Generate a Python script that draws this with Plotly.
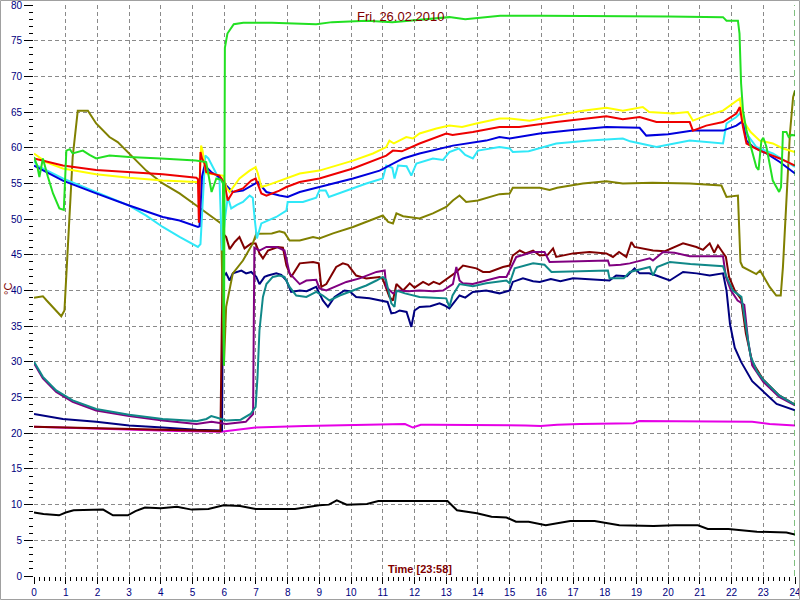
import plotly.graph_objects as go

# ---------------- data (hours, °C) ----------------
black_t = [0, 0.3, 0.79, 1.0, 1.25, 1.7, 2.18, 2.49, 2.96, 3.2, 3.5, 4.0, 4.51, 4.97, 5.5, 5.98, 6.5, 6.99, 8.23, 9.0, 9.3, 9.55, 9.86, 10.5, 10.86, 11.95, 13.04, 13.34, 13.97, 14.43, 14.9, 15.2, 15.6, 16.14, 16.91, 17.68, 18.46, 19.54, 20.2, 20.94, 21.25, 21.9, 22.8, 23.73, 24.0]
black_v = [8.9, 8.7, 8.5, 8.9, 9.2, 9.2, 9.3, 8.5, 8.5, 9.1, 9.6, 9.5, 9.7, 9.3, 9.4, 9.9, 9.8, 9.4, 9.4, 9.9, 10.0, 10.6, 10.0, 10.1, 10.5, 10.5, 10.5, 9.2, 8.8, 8.3, 8.2, 7.6, 7.6, 7.1, 7.7, 7.7, 7.1, 7.0, 7.1, 7.1, 6.6, 6.6, 6.2, 6.1, 5.8]

magenta_t = [0, 1.41, 2.96, 4.51, 5.9, 6.37, 6.99, 8.54, 10.71, 11.4, 11.7, 11.95, 12.2, 12.57, 14.43, 15.5, 15.98, 16.5, 17.22, 18.5, 18.9, 19.08, 20.78, 21.1, 22.65, 23.2, 24.0]
magenta_v = [20.9, 20.7, 20.5, 20.3, 20.2, 20.5, 20.8, 21.0, 21.2, 21.2, 21.3, 20.8, 21.2, 21.2, 21.2, 21.1, 21.0, 21.2, 21.3, 21.3, 21.4, 21.7, 21.7, 21.6, 21.6, 21.3, 21.1]

navy_t = [0, 0.91, 1.96, 3.0, 4.06, 5.12, 5.9, 5.93, 5.96, 6.06, 6.17, 6.27, 6.54, 6.69, 6.85, 7.01, 7.11, 7.27, 7.38, 7.64, 7.8, 7.96, 8.11, 8.38, 8.6, 8.9, 9.11, 9.27, 9.48, 9.79, 9.95, 10.16, 10.58, 11.0, 11.15, 11.27, 11.4, 11.53, 11.75, 11.9, 12.0, 12.16, 12.5, 12.79, 12.95, 13.1, 13.42, 13.6, 13.84, 14.26, 14.68, 15.0, 15.1, 15.42, 15.74, 15.95, 16.3, 16.6, 17.0, 18.15, 18.36, 18.7, 18.94, 19.1, 19.4, 19.63, 20.05, 20.47, 20.9, 21.31, 21.73, 21.84, 21.95, 22.1, 22.3, 22.65, 23.0, 23.42, 24.0]
navy_v = [22.7, 22.0, 21.6, 21.1, 20.8, 20.5, 20.4, 20.4, 41.9, 42.4, 41.4, 42.4, 42.8, 42.4, 42.6, 41.9, 40.9, 41.9, 42.1, 42.4, 42.2, 41.4, 39.8, 40.0, 39.9, 40.5, 38.6, 37.7, 39.1, 40.0, 39.9, 39.1, 38.9, 38.6, 38.4, 36.8, 36.9, 37.2, 37.0, 34.9, 37.2, 37.7, 37.8, 38.2, 37.9, 37.5, 39.3, 39.0, 39.8, 40.0, 39.6, 40.0, 41.2, 41.7, 41.3, 41.2, 41.6, 41.3, 41.7, 41.4, 42.1, 42.0, 43.1, 42.4, 42.4, 42.1, 41.4, 42.6, 42.4, 42.1, 42.4, 40.0, 35.3, 32.0, 30.0, 27.3, 25.8, 24.1, 23.2]

maroon_t = [0, 3.0, 5.8, 5.88, 5.96, 6.06, 6.17, 6.33, 6.48, 6.64, 6.85, 6.99, 7.11, 7.22, 7.38, 7.69, 7.85, 7.96, 8.11, 8.38, 8.8, 8.98, 9.06, 9.22, 9.53, 9.74, 9.9, 10.16, 10.48, 10.9, 11.0, 11.21, 11.32, 11.43, 11.64, 11.85, 12.0, 12.27, 12.45, 12.6, 12.79, 13.1, 13.32, 13.53, 13.7, 13.95, 14.16, 14.37, 14.79, 15.0, 15.1, 15.32, 15.5, 15.74, 15.95, 16.2, 16.37, 16.47, 17.0, 17.52, 18.05, 18.26, 18.45, 18.68, 18.84, 18.94, 19.52, 19.9, 20.47, 20.89, 21.1, 21.31, 21.45, 21.57, 21.68, 21.82, 21.92, 22.1, 22.3, 22.45, 22.65, 23.0, 23.5, 24.0]
maroon_v = [20.9, 20.6, 20.3, 20.3, 48.0, 47.5, 45.8, 46.8, 47.5, 45.9, 46.6, 46.6, 45.2, 44.5, 45.6, 46.1, 46.0, 43.5, 41.9, 43.8, 44.0, 43.8, 40.5, 40.9, 43.3, 43.8, 43.6, 42.1, 41.7, 41.9, 41.6, 39.1, 38.6, 40.9, 40.0, 41.0, 40.4, 41.2, 40.8, 41.2, 40.9, 41.9, 42.6, 43.5, 43.3, 43.1, 42.6, 42.6, 43.3, 43.5, 44.9, 45.6, 45.2, 45.6, 44.9, 45.0, 45.9, 44.7, 45.2, 45.4, 45.2, 44.7, 45.4, 44.7, 46.8, 46.1, 45.6, 45.5, 46.6, 46.1, 45.7, 46.6, 45.3, 46.3, 45.6, 44.7, 41.9, 40.0, 38.8, 34.0, 30.0, 27.5, 25.3, 24.0]

purple_t = [0, 0.28, 0.7, 1.22, 1.96, 3.0, 4.06, 5.12, 5.6, 6.06, 6.68, 6.91, 6.95, 7.11, 7.33, 7.65, 7.9, 8.06, 8.38, 8.59, 8.9, 9.0, 9.22, 9.5, 9.85, 10.27, 10.8, 11.06, 11.11, 11.32, 11.5, 11.8, 12.16, 12.6, 12.9, 13.21, 13.32, 13.42, 13.52, 13.84, 14.26, 14.68, 14.9, 15.05, 15.21, 15.74, 16.1, 16.26, 17.0, 18.1, 18.15, 18.5, 18.79, 19.42, 19.52, 19.84, 20.2, 20.68, 21.73, 21.82, 21.98, 22.19, 22.4, 22.52, 22.65, 23.0, 23.5, 24.0]
purple_v = [29.8, 27.7, 25.8, 24.4, 23.2, 22.4, 21.8, 21.3, 21.6, 21.3, 21.6, 22.7, 46.0, 45.6, 46.1, 46.1, 45.6, 42.4, 40.9, 41.4, 41.5, 40.3, 40.0, 40.5, 41.2, 41.7, 42.6, 42.8, 40.5, 39.6, 40.0, 39.9, 40.0, 39.9, 40.0, 40.9, 43.3, 41.4, 41.0, 40.9, 41.4, 41.9, 41.9, 43.3, 44.7, 45.4, 45.4, 44.0, 44.1, 44.2, 43.5, 43.6, 43.8, 44.5, 44.2, 45.4, 45.3, 44.8, 44.8, 41.9, 40.0, 38.6, 38.0, 33.0, 29.5, 27.2, 25.1, 23.9]

teal_t = [0, 0.28, 0.7, 1.22, 1.96, 3.0, 4.06, 5.12, 5.44, 5.59, 5.75, 6.06, 6.52, 6.83, 6.99, 7.05, 7.11, 7.22, 7.33, 7.53, 7.74, 7.9, 8.06, 8.27, 8.59, 8.9, 9.11, 9.32, 9.64, 10.06, 10.48, 10.8, 11.0, 11.1, 11.27, 11.37, 11.43, 11.7, 12.16, 12.6, 13.0, 13.1, 13.2, 13.42, 13.84, 14.26, 14.68, 14.9, 15.0, 15.16, 15.74, 16.1, 16.32, 17.0, 18.1, 18.15, 18.6, 18.79, 19.42, 19.52, 19.65, 20.05, 20.7, 21.73, 21.84, 22.04, 22.31, 22.47, 22.6, 22.8, 23.0, 23.5, 24.0]
teal_v = [30.0, 27.9, 26.0, 24.6, 23.4, 22.6, 22.0, 21.7, 22.0, 22.4, 22.2, 21.8, 21.9, 22.7, 23.7, 28.0, 34.4, 39.1, 40.9, 41.9, 42.1, 41.9, 40.5, 39.3, 39.1, 39.8, 39.3, 38.6, 39.3, 40.0, 40.7, 41.4, 41.9, 41.5, 38.2, 37.7, 40.0, 39.6, 39.1, 39.0, 38.9, 37.7, 39.3, 40.9, 40.6, 41.0, 41.2, 41.4, 41.0, 43.1, 43.8, 43.6, 42.6, 42.7, 42.8, 41.7, 41.7, 42.6, 43.3, 42.1, 43.3, 44.0, 43.7, 43.4, 41.9, 40.0, 39.1, 34.4, 30.8, 28.7, 27.5, 25.3, 24.0]

olive_t = [0, 0.28, 0.4, 0.86, 0.96, 1.07, 1.22, 1.38, 1.7, 1.96, 2.38, 2.64, 3.01, 3.54, 4.06, 4.59, 5.12, 5.54, 5.9, 5.99, 6.06, 6.27, 6.59, 6.9, 7.01, 7.5, 7.74, 7.9, 8.06, 8.38, 8.8, 9.0, 9.43, 10.06, 10.48, 11.0, 11.17, 11.32, 11.43, 11.64, 12.16, 12.58, 13.0, 13.21, 13.42, 13.63, 14.0, 14.68, 15.0, 15.1, 15.95, 16.26, 16.5, 17.31, 18.05, 18.57, 19.5, 20.68, 21.68, 21.84, 22.2, 22.28, 22.35, 22.78, 22.9, 23.2, 23.41, 23.55, 23.62, 23.73, 23.84, 23.94, 24.0]
olive_v = [39.0, 39.2, 38.6, 36.4, 37.2, 47.0, 58.7, 65.2, 65.2, 63.4, 61.5, 60.8, 59.2, 56.8, 55.0, 53.6, 51.9, 50.5, 49.4, 29.5, 37.7, 42.4, 44.2, 46.6, 47.95, 48.0, 48.3, 48.1, 47.0, 47.0, 47.5, 47.3, 48.0, 48.9, 49.6, 50.5, 49.6, 49.4, 50.8, 50.4, 50.1, 50.8, 51.7, 52.6, 53.3, 52.4, 52.6, 53.5, 53.6, 54.4, 54.4, 54.1, 54.4, 55.0, 55.3, 55.0, 55.1, 55.0, 54.7, 53.1, 53.3, 44.0, 43.3, 42.3, 42.8, 40.5, 39.3, 39.3, 43.3, 52.6, 62.0, 67.1, 68.0]

cyan_t = [0, 0.1, 0.91, 1.96, 3.0, 3.54, 4.06, 4.59, 5.17, 5.25, 5.33, 5.4, 5.5, 5.64, 5.8, 5.85, 5.93, 6.02, 6.11, 6.22, 6.4, 6.59, 6.8, 6.9, 6.96, 7.03, 7.17, 7.64, 7.96, 8.0, 8.48, 8.9, 9.0, 9.2, 9.3, 9.85, 10.48, 11.0, 11.11, 11.3, 11.37, 11.48, 11.75, 11.9, 12.06, 12.58, 12.9, 13.1, 13.4, 13.6, 13.84, 14.0, 14.68, 15.0, 15.1, 15.6, 16.47, 17.52, 18.57, 18.8, 19.63, 20.68, 21.73, 21.84, 22.15, 22.31, 22.47, 22.78, 23.3, 24.0]
cyan_v = [58.2, 57.5, 55.7, 53.8, 51.9, 50.5, 48.9, 47.5, 46.1, 46.5, 54.0, 58.9, 58.5, 57.3, 55.9, 55.5, 45.6, 50.0, 53.1, 51.5, 52.0, 52.4, 53.3, 53.0, 50.0, 47.3, 49.4, 50.3, 51.2, 52.4, 52.4, 53.0, 54.0, 54.0, 53.1, 54.0, 55.0, 55.7, 57.5, 57.2, 55.7, 57.5, 57.4, 56.1, 57.8, 58.5, 58.3, 59.4, 59.9, 59.0, 58.5, 59.6, 60.1, 59.9, 59.4, 59.5, 60.6, 61.0, 61.3, 60.9, 60.1, 61.0, 60.6, 63.4, 64.3, 65.0, 62.0, 60.1, 59.2, 57.3]

blue_t = [0, 0.91, 1.96, 3.0, 4.06, 4.59, 5.17, 5.22, 5.3, 5.38, 5.59, 5.9, 6.06, 6.27, 6.59, 6.85, 7.06, 7.33, 7.74, 8.0, 8.38, 9.0, 10.06, 10.9, 11.64, 12.16, 13.21, 14.26, 14.68, 15.0, 15.95, 17.0, 18.05, 19.1, 19.31, 20.0, 20.78, 21.73, 22.15, 22.31, 22.36, 22.47, 22.68, 23.1, 23.52, 24.0]
blue_v = [57.5, 55.4, 53.6, 51.9, 50.3, 49.8, 48.9, 49.0, 56.0, 57.5, 56.6, 55.7, 54.7, 53.8, 54.0, 54.7, 55.2, 53.8, 53.3, 53.1, 53.8, 54.5, 55.7, 56.8, 58.5, 59.2, 60.3, 61.0, 61.5, 61.3, 62.0, 62.5, 62.9, 62.8, 61.7, 61.9, 62.4, 62.4, 63.1, 63.6, 63.4, 61.0, 60.1, 59.2, 58.0, 56.4]

yellow_t = [0, 0.38, 0.91, 1.96, 3.0, 4.06, 5.12, 5.22, 5.27, 5.32, 5.38, 5.43, 5.96, 6.06, 6.17, 6.33, 6.48, 6.8, 6.99, 7.06, 7.17, 7.33, 7.74, 7.96, 8.38, 9.0, 10.06, 10.69, 11.11, 11.21, 11.35, 11.74, 11.95, 12.16, 12.69, 13.1, 13.5, 13.95, 14.68, 15.0, 15.63, 16.47, 17.31, 18.05, 18.57, 19.2, 19.4, 20.15, 20.62, 20.78, 21.2, 21.73, 22.04, 22.26, 22.36, 22.6, 22.89, 23.3, 23.62, 24.0]
yellow_v = [59.2, 58.0, 57.1, 56.3, 55.8, 55.4, 55.2, 55.2, 60.3, 59.5, 57.5, 56.4, 56.1, 54.5, 53.8, 54.7, 55.7, 56.8, 57.3, 56.4, 54.5, 54.7, 55.4, 55.7, 56.4, 56.8, 58.2, 59.2, 60.1, 61.0, 60.6, 61.5, 61.3, 62.0, 62.7, 63.1, 62.9, 63.4, 64.1, 64.1, 63.8, 64.5, 65.2, 65.6, 65.2, 65.7, 65.0, 64.8, 65.0, 63.8, 64.5, 65.2, 66.2, 66.9, 63.8, 62.2, 61.0, 60.6, 59.9, 59.4]

red_t = [0, 0.91, 1.96, 3.0, 4.06, 5.12, 5.17, 5.2, 5.25, 5.3, 5.38, 5.43, 5.85, 6.01, 6.11, 6.27, 6.59, 6.85, 6.99, 7.17, 7.33, 7.74, 7.96, 8.38, 9.0, 10.06, 11.11, 11.32, 11.6, 12.16, 13.0, 13.2, 13.84, 14.68, 15.3, 16.47, 18.05, 18.57, 19.1, 19.63, 20.68, 20.78, 21.2, 21.73, 22.15, 22.26, 22.36, 22.47, 22.68, 22.89, 23.52, 24.0]
red_v = [58.5, 57.5, 56.9, 56.6, 56.3, 55.8, 55.6, 49.5, 59.4, 58.5, 57.8, 56.6, 56.1, 55.0, 52.6, 53.8, 54.3, 55.4, 55.7, 53.6, 53.3, 54.0, 54.5, 55.2, 55.7, 57.1, 58.9, 59.6, 59.5, 60.6, 62.0, 61.8, 62.2, 62.9, 62.9, 63.6, 64.4, 64.0, 64.3, 63.6, 63.6, 62.4, 63.1, 63.6, 64.8, 65.7, 62.9, 60.6, 60.1, 59.6, 58.5, 57.5]

green_t = [0, 0.1, 0.17, 0.28, 0.44, 0.6, 0.8, 0.94, 1.02, 1.13, 1.22, 1.54, 1.75, 1.96, 2.38, 3.0, 4.0, 5.1, 5.43, 5.6, 5.75, 5.9, 5.96, 5.99, 6.02, 6.1, 6.3, 6.6, 7.5, 8.4, 8.9, 9.4, 10.5, 11.3, 11.8, 12.4, 13.1, 13.6, 14.7, 16.0, 18.0, 20.0, 21.73, 21.84, 22.2, 22.25, 22.3, 22.36, 22.47, 22.62, 22.78, 22.85, 22.94, 23.0, 23.1, 23.3, 23.5, 23.56, 23.62, 23.73, 23.8, 23.9, 24.0]
green_v = [58.7, 57.5, 55.9, 58.5, 55.9, 53.6, 51.5, 51.3, 59.6, 59.8, 59.2, 59.6, 59.0, 58.5, 58.9, 58.7, 58.5, 58.2, 58.0, 53.8, 55.7, 55.5, 55.0, 29.5, 74.0, 76.0, 77.3, 77.5, 77.5, 77.4, 77.3, 77.6, 77.8, 77.6, 77.8, 78.0, 78.3, 78.0, 78.5, 78.5, 78.5, 78.4, 78.3, 77.8, 77.8, 76.0, 69.0, 65.2, 62.4, 60.1, 57.3, 56.9, 61.0, 61.4, 60.1, 55.4, 53.8, 54.5, 62.2, 62.2, 61.5, 61.8, 61.7]

x_tick_vals = list(range(0, 25))
y_tick_vals = list(range(0, 81, 5))
title_text = "Fri, 26.02.2010"
xlabel_text = "Time [23:58]"
ylabel_text = "°C"

# ---------------- figure ----------------
series = [
    (black_t, black_v, "#000000"),
    (magenta_t, magenta_v, "#e600e6"),
    (navy_t, navy_v, "#000080"),
    (maroon_t, maroon_v, "#800000"),
    (purple_t, purple_v, "#800080"),
    (teal_t, teal_v, "#108888"),
    (olive_t, olive_v, "#808000"),
    (cyan_t, cyan_v, "#30e8f8"),
    (blue_t, blue_v, "#0000dd"),
    (yellow_t, yellow_v, "#ffff00"),
    (red_t, red_v, "#ee0000"),
    (green_t, green_v, "#22e022"),
]

fig = go.Figure()
for t, v, c in series:
    fig.add_trace(go.Scatter(x=t, y=v, mode="lines", line=dict(color=c, width=2),
                             hoverinfo="skip", showlegend=False))

L, R, T, B = 34, 5, 5, 24
W, H = 800, 600
pw, ph = W - L - R, H - T - B

grid_color = "#8a8a8a"
tick_font = dict(family="Arial, Liberation Sans", size=10, color="#000080")

fig.update_layout(
    width=W, height=H,
    margin=dict(l=L, r=R, t=T, b=B, pad=0),
    paper_bgcolor="white", plot_bgcolor="white",
    showlegend=False,
    xaxis=dict(range=[0, 24], tickvals=x_tick_vals, ticktext=[str(v) for v in x_tick_vals],
               automargin=False, ticklabeloverflow="allow",
               showgrid=True, gridcolor=grid_color, gridwidth=1, griddash="4px,3px",
               ticks="outside", ticklen=7, tickcolor="#000000", tickwidth=1,
               tickfont=tick_font, zeroline=False, showline=False,
               minor=dict(dtick=1/6, tick0=0, ticks="outside", ticklen=4, tickcolor="#000000",
                          tickwidth=1, showgrid=False)),
    yaxis=dict(range=[0, 80], tickvals=y_tick_vals, ticktext=[str(v) for v in y_tick_vals],
               automargin=False, ticklabeloverflow="allow",
               showgrid=True, gridcolor=grid_color, gridwidth=1, griddash="4px,3px",
               ticks="outside", ticklen=9, tickcolor="#000000", tickwidth=1,
               tickfont=tick_font, zeroline=False, showline=False,
               minor=dict(dtick=1, tick0=0, ticks="outside", ticklen=4, tickcolor="#000000",
                          tickwidth=1, showgrid=False)),
)

# current-time marker
fig.add_shape(type="line", xref="x", yref="y", x0=24, x1=24, y0=0, y1=80,
              line=dict(color="#008000", width=1, dash="6px,4px"))

# outer frame
fig.add_shape(type="rect", xref="paper", yref="paper",
              x0=(-L + 0.5) / pw, x1=1 + (R - 0.5) / pw,
              y0=(-B + 0.5) / ph, y1=1 + (T - 0.5) / ph,
              line=dict(color="#a0a0a0", width=1), fillcolor="rgba(0,0,0,0)", layer="above")

# texts
fig.add_annotation(text=title_text, xref="paper", yref="paper",
                   x=(400 - L) / pw, y=1 - (17 - T) / ph, showarrow=False,
                   xanchor="center", yanchor="middle",
                   font=dict(family="Arial, Liberation Sans", size=13, color="#800000"))
fig.add_annotation(text="<b>" + xlabel_text + "</b>", xref="paper", yref="paper",
                   x=(420 - L) / pw, y=1 - (569 - T) / ph, showarrow=False,
                   xanchor="center", yanchor="middle",
                   font=dict(family="Arial, Liberation Sans", size=11, color="#800000"))
fig.add_annotation(text=ylabel_text, xref="paper", yref="paper",
                   x=(8 - L) / pw, y=1 - (289 - T) / ph, showarrow=False, textangle=-90,
                   xanchor="center", yanchor="middle",
                   font=dict(family="Arial, Liberation Sans", size=11, color="#800000"))

fig.write_html("out.html", config={"displayModeBar": False},
               post_script="document.body.style.margin='0';document.body.style.overflow='hidden';")
